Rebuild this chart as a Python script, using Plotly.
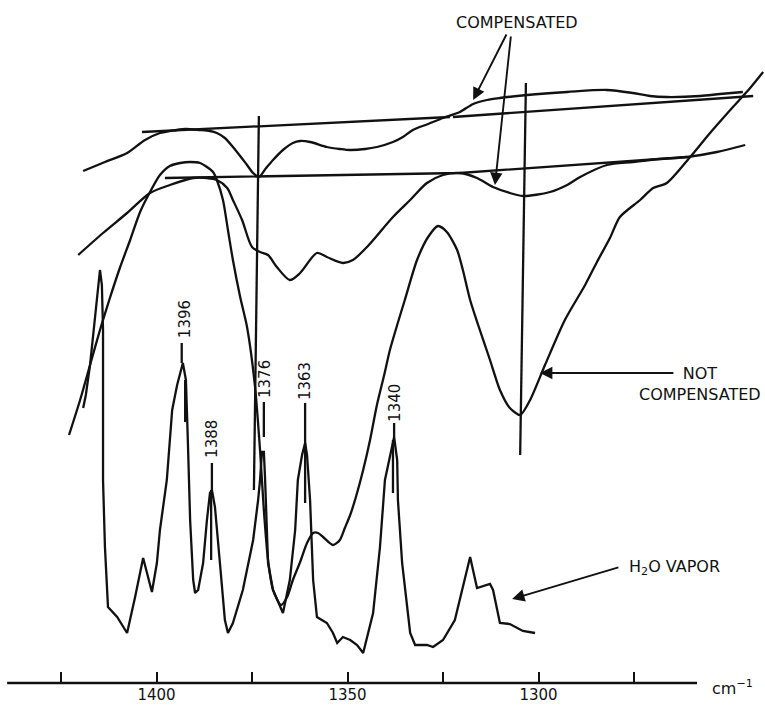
import plotly.graph_objects as go

# ---------------- data (wavenumber cm-1, signal in arbitrary units) ----------------
comp_up_x = [1419.2,1413.5,1407.7,1403.0,1399.1,1396.5,1392.5,1388.6,1386.0,1384.2,1382.1,1380.0,1377.9,1376.3,1374.7,
             1373.2,1371.3,1369.5,1366.9,1364.3,1362.4,1359.8,1355.4,1352.0,1349.3,1345.4,1342.3,1338.1,1335.5,1332.9,
             1328.9,1325.0,1320.6,1317.1,1313.5,1310.1,1303.0,1292.5,1282.1,1275.3,1270.8,1266.4,1257.7,1252.5,1246.5]
comp_up_y = [512,521,530,543,550,552,554,553,552,550,545,536,526,518,510,
             506,515,523,533,540,542,541,536,534,533,534,536,541,546,553,
             559,565,571,579,583,585,588,591,593,590,587,586,587,589,591]

comp_lo_x = [1420.5,1414.0,1407.7,1401.7,1396.5,1390.4,1386.8,1384.2,1381.5,1380.0,1377.6,1375.0,1372.9,1370.8,1368.5,
             1365.1,1362.4,1358.0,1355.4,1351.2,1348.6,1344.9,1338.1,1333.6,1329.2,1325.0,1320.6,1316.1,1311.9,1307.5,
             1304.1,1297.0,1292.5,1289.1,1282.1,1275.3,1268.2,1261.1,1253.3,1245.9]
comp_lo_y = [428,450,470,490,498,505,505,503,495,483,463,436,431,428,416,
             403,410,430,426,420,423,436,466,483,500,508,510,505,496,490,
             487,491,498,506,518,521,524,526,531,538]

notcomp_x = [1422.9,1420.0,1417.4,1414.8,1412.2,1409.6,1406.9,1404.3,1401.7,1399.1,
             1396.5,1393.8,1391.2,1388.6,1386.8,1385.2,1384.2,1382.6,1381.3,1380.0,
             1378.1,1376.3,1374.2,1372.9,1371.9,1370.8,1369.5,1367.4,1365.8,1364.3,
             1362.4,1360.6,1359.0,1357.7,1356.4,1353.8,1352.0,1350.7,1349.3,1347.8,
             1345.9,1344.1,1342.3,1340.4,1338.9,1337.0,1335.0,1331.8,1328.9,1326.3,
             1324.0,1321.3,1319.8,1317.9,1315.8,1312.7,1310.1,1307.5,1304.8,1302.2,
             1298.3,1293.1,1287.8,1284.7,1281.3,1278.7,1273.4,1270.0,1266.4,1260.3,
             1255.1,1249.1,1244.6,1241.2]
notcomp_y = [248,283,318,353,385,415,443,471,491,508,
             517,520,521,520,516,511,503,483,453,423,
             386,356,296,233,173,123,93,78,86,103,
             121,140,150,150,146,138,143,155,168,186,
             213,243,278,308,333,358,383,423,446,457,
             451,433,413,383,358,323,293,275,268,283,
             318,363,398,421,445,466,483,495,500,526,
             550,576,595,611]

h2o_x = [1419.2,1418.5,1417.4,1416.4,1415.6,1415.1,1414.8,1414.3,1414.0,1414.0,
         1414.0,1413.5,1412.7,1410.3,1408.8,1407.7,1405.6,1403.5,1401.2,1399.9,
         1399.1,1397.3,1395.9,1394.6,1393.1,1392.3,1391.8,1391.2,1390.4,1389.9,
         1389.1,1387.8,1386.8,1386.0,1385.5,1384.7,1383.4,1382.1,1381.3,1380.0,
         1377.4,1374.7,1373.4,1372.9,1372.4,1371.9,1371.6,1371.3,1370.8,1369.5,
         1366.9,1365.1,1363.7,1363.0,1361.9,1361.1,1360.6,1359.8,1359.0,1358.0,
         1355.4,1353.8,1352.7,1351.2,1349.3,1347.5,1345.9,1343.3,1341.5,1340.2,
         1338.9,1337.8,1337.0,1336.8,1335.7,1333.6,1332.3,1329.2,1327.6,1325.0,
         1321.9,1319.8,1317.9,1316.1,1312.7,1311.9,1310.1,1307.5,1304.1,1300.9]
h2o_y = [275,288,318,353,383,403,413,398,353,283,
         203,136,76,66,56,50,86,125,91,120,
         153,203,273,298,320,303,243,163,103,90,
         93,120,163,190,193,176,120,63,50,60,
         93,143,183,203,231,231,206,170,120,93,
         70,103,153,203,228,240,228,183,103,66,
         60,50,40,46,43,38,30,70,136,203,
         228,246,223,183,120,50,38,38,36,43,
         63,96,126,95,99,93,60,59,52,50]

# straight reference lines drawn on the original (start/end points)
base_up_a_x = [1403.8, 1323.2]; base_up_a_y = [551, 566]
base_up_b_x = [1322.4, 1243.8]; base_up_b_y = [566, 587]
base_lo_x = [1397.8, 1320.6, 1261.1]; base_lo_y = [505, 510, 526]
vline1_x = [1373.2, 1374.5]; vline1_y = [567, 193]
vline2_x = [1303.3, 1304.8]; vline2_y = [600, 228]

# peak labels of the water vapour spectrum
peak_labels = ["1396", "1388", "1376", "1363", "1340"]
peak_label_x = [1392.5, 1385.5, 1371.6, 1361.1, 1337.6]
peak_label_y = [364, 244, 304, 302, 280]
# leader lines above peaks and drop lines below peaks (x, y_top, y_bottom)
lead_x = [1393.4, 1385.5, 1371.9, 1361.1, 1337.8]
lead_y0 = [340, 220, 281, 280, 260]
lead_y1 = [320, 193, 246, 240, 246]
drop_x = [1392.5, 1385.7, 1361.1, 1338.1]
drop_y0 = [303, 193, 240, 243]
drop_y1 = [261, 123, 180, 190]

major_ticks = [1400, 1350, 1300]
major_text = ["1400", "1350", "1300"]
minor_ticks = [1425, 1375, 1325, 1275]
axis_x = [1439.1, 1258.5]

FONT = "DejaVu Sans"
INK = "#111111"
LW = 2.3

fig = go.Figure()

def line(x, y, w=LW, shape="linear", smooth=None):
    kw = dict(color=INK, width=w, shape=shape)
    if smooth is not None:
        kw["smoothing"] = smooth
    fig.add_trace(go.Scatter(x=x, y=y, mode="lines", line=kw, hoverinfo="skip"))

line(comp_up_x, comp_up_y, shape="spline", smooth=0.8)
line(comp_lo_x, comp_lo_y, shape="spline", smooth=0.8)
line(notcomp_x, notcomp_y, shape="spline", smooth=0.7)
line(h2o_x, h2o_y)
for bx, by in [(base_up_a_x, base_up_a_y), (base_up_b_x, base_up_b_y), (base_lo_x, base_lo_y),
               (vline1_x, vline1_y), (vline2_x, vline2_y)]:
    line(bx, by)

# leader/drop segments
seg_x, seg_y = [], []
for x, a, b in zip(lead_x, lead_y0, lead_y1):
    seg_x += [x, x, None]; seg_y += [a, b, None]
for x, a, b in zip(drop_x, drop_y0, drop_y1):
    seg_x += [x, x, None]; seg_y += [a, b, None]
line(seg_x, seg_y)

# x axis baseline
line(axis_x, [0, 0], w=2.4)

ann = []
for t, x, y in zip(peak_labels, peak_label_x, peak_label_y):
    ann.append(dict(x=x, y=y, text=t, showarrow=False, textangle=-90,
                    font=dict(family=FONT, size=15, color=INK)))

def arrow(tip_x, tip_y, tail_x, tail_y):
    ann.append(dict(x=tip_x, y=tip_y, ax=tail_x, ay=tail_y, axref="x", ayref="y",
                    text="", showarrow=True, arrowhead=2, arrowsize=1.3, arrowwidth=1.9,
                    arrowcolor=INK, standoff=0))

arrow(1317.1, 583, 1308.2, 650)
arrow(1311.4, 498, 1307.2, 648)
arrow(1299.6, 310, 1264.3, 310)
arrow(1306.9, 84, 1278.7, 116)

ann.append(dict(x=1305.6, y=661, text="COMPENSATED", showarrow=False,
                font=dict(family=FONT, size=16, color=INK)))
ann.append(dict(x=1257.7, y=299, text="NOT<br>COMPENSATED", showarrow=False, align="center",
                font=dict(family=FONT, size=16, color=INK)))
ann.append(dict(x=1276.8, y=116, text="H<sub>2</sub>O VAPOR", showarrow=False, xanchor="left",
                font=dict(family=FONT, size=16, color=INK)))
ann.append(dict(x=1249.3, y=-4, text="cm<sup>\u22121</sup>", showarrow=False,
                font=dict(family=FONT, size=16, color=INK)))

fig.update_layout(
    width=765, height=705,
    margin=dict(l=0, r=0, t=0, b=12, pad=0),
    paper_bgcolor="white", plot_bgcolor="white",
    showlegend=False,
    annotations=ann,
    xaxis=dict(range=[1440.97, 1240.71], autorange=False, showgrid=False, zeroline=False,
               showline=False, anchor="free", position=10/693,
               tickmode="array", tickvals=major_ticks, ticktext=major_text,
               ticks="inside", ticklen=11, tickwidth=2, tickcolor=INK, ticklabelstandoff=1,
               minor=dict(tickmode="array", tickvals=minor_ticks, ticks="inside",
                          ticklen=11, tickwidth=2, tickcolor=INK, showgrid=False),
               tickfont=dict(family=FONT, size=15, color=INK), automargin=False),
    yaxis=dict(range=[-10, 683], autorange=False, visible=False, showgrid=False, zeroline=False),
)

fig.write_html("out.html", config={"displayModeBar": False, "staticPlot": True},
               post_script="document.body.style.margin='0px';document.body.style.overflow='hidden';")
